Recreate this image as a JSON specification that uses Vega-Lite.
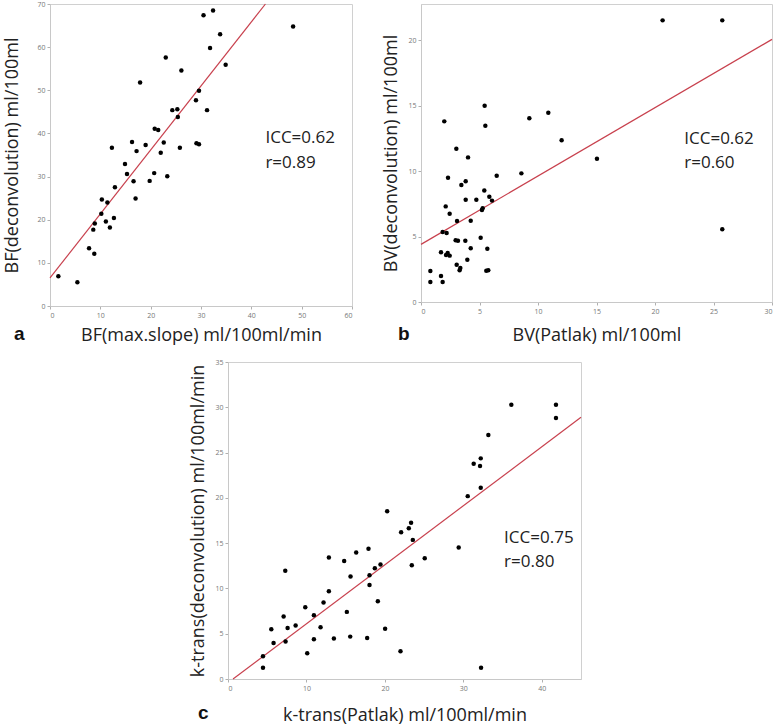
{
  "$schema": "https://vega.github.io/schema/vega-lite/v6.json",
  "padding": {"top": -1, "left": 3, "right": 0, "bottom": 0},
  "background": "white",
  "datasets": {
    "bf": [
      {"x": 1.66, "y": 6.87}, {"x": 5.44, "y": 5.48}, {"x": 7.76, "y": 13.4}, {"x": 8.8, "y": 12.1},
      {"x": 8.6, "y": 17.7}, {"x": 8.9, "y": 19.1}, {"x": 10.2, "y": 21.4}, {"x": 10.3, "y": 24.7},
      {"x": 11.1, "y": 19.6}, {"x": 11.4, "y": 24.0}, {"x": 11.9, "y": 18.2}, {"x": 12.3, "y": 36.7},
      {"x": 12.7, "y": 20.4}, {"x": 12.9, "y": 27.5}, {"x": 14.9, "y": 32.9}, {"x": 15.3, "y": 30.6},
      {"x": 16.3, "y": 38.0}, {"x": 16.6, "y": 28.9}, {"x": 17.0, "y": 24.9}, {"x": 17.2, "y": 35.9},
      {"x": 17.9, "y": 51.8}, {"x": 19.0, "y": 37.3}, {"x": 19.8, "y": 29.0}, {"x": 20.7, "y": 30.8},
      {"x": 20.8, "y": 41.1}, {"x": 21.5, "y": 40.8}, {"x": 22.0, "y": 35.5}, {"x": 22.6, "y": 37.9},
      {"x": 23.0, "y": 57.6}, {"x": 23.3, "y": 30.1}, {"x": 24.3, "y": 45.4}, {"x": 25.3, "y": 45.6},
      {"x": 25.4, "y": 43.8}, {"x": 25.8, "y": 36.7}, {"x": 26.1, "y": 54.6}, {"x": 29.0, "y": 47.7},
      {"x": 29.1, "y": 37.7}, {"x": 29.6, "y": 37.5}, {"x": 29.6, "y": 49.9}, {"x": 30.5, "y": 67.4},
      {"x": 31.2, "y": 45.4}, {"x": 31.8, "y": 59.8}, {"x": 32.4, "y": 68.5}, {"x": 33.8, "y": 63.0},
      {"x": 34.9, "y": 55.9}, {"x": 48.3, "y": 64.8}
    ],
    "bfLine": [{"x": 0, "y": 6.5}, {"x": 42.8, "y": 70}],
    "bfText": [{"x": 42.8, "y": 38.9, "label": "ICC=0.62"}, {"x": 42.8, "y": 33.2, "label": "r=0.89"}],
    "bv": [
      {"x": 20.65, "y": 21.5}, {"x": 25.75, "y": 21.5}, {"x": 25.75, "y": 5.55}, {"x": 15.04, "y": 10.94},
      {"x": 12.02, "y": 12.34}, {"x": 10.88, "y": 14.45}, {"x": 9.26, "y": 14.02}, {"x": 8.58, "y": 9.82},
      {"x": 5.44, "y": 14.99}, {"x": 5.5, "y": 13.46}, {"x": 1.99, "y": 13.79}, {"x": 3.02, "y": 11.7},
      {"x": 4.02, "y": 11.04}, {"x": 6.47, "y": 9.64}, {"x": 2.31, "y": 9.49}, {"x": 3.45, "y": 8.93},
      {"x": 3.82, "y": 9.21}, {"x": 5.41, "y": 8.52}, {"x": 5.84, "y": 8.04}, {"x": 6.07, "y": 7.74},
      {"x": 3.82, "y": 7.81}, {"x": 4.73, "y": 7.81}, {"x": 5.21, "y": 7.02}, {"x": 5.27, "y": 7.15},
      {"x": 2.11, "y": 7.3}, {"x": 2.45, "y": 6.74}, {"x": 3.08, "y": 6.18}, {"x": 4.25, "y": 6.21},
      {"x": 1.85, "y": 5.34}, {"x": 2.19, "y": 5.27}, {"x": 2.96, "y": 4.71}, {"x": 3.16, "y": 4.68},
      {"x": 3.79, "y": 4.68}, {"x": 5.1, "y": 4.91}, {"x": 1.71, "y": 3.79}, {"x": 2.28, "y": 3.74},
      {"x": 2.14, "y": 3.59}, {"x": 2.45, "y": 3.54}, {"x": 4.25, "y": 4.1}, {"x": 5.67, "y": 4.07},
      {"x": 3.96, "y": 3.23}, {"x": 3.05, "y": 2.85}, {"x": 3.36, "y": 2.6}, {"x": 3.3, "y": 2.42},
      {"x": 5.58, "y": 2.39}, {"x": 5.75, "y": 2.42}, {"x": 0.8, "y": 2.37}, {"x": 1.71, "y": 1.98},
      {"x": 0.8, "y": 1.53}, {"x": 1.85, "y": 1.53}
    ],
    "bvLine": [{"x": 0, "y": 4.4}, {"x": 30, "y": 20.05}],
    "bvText": [{"x": 22.5, "y": 12.47, "label": "ICC=0.62"}, {"x": 22.5, "y": 10.64, "label": "r=0.60"}],
    "kt": [
      {"x": 36.12, "y": 30.29}, {"x": 41.81, "y": 30.29}, {"x": 41.81, "y": 28.81}, {"x": 33.19, "y": 26.93},
      {"x": 32.22, "y": 24.36}, {"x": 31.32, "y": 23.77}, {"x": 32.13, "y": 23.51}, {"x": 32.22, "y": 21.11},
      {"x": 30.56, "y": 20.19}, {"x": 20.29, "y": 18.53}, {"x": 23.34, "y": 17.24}, {"x": 23.05, "y": 16.65},
      {"x": 22.07, "y": 16.21}, {"x": 23.56, "y": 15.36}, {"x": 29.41, "y": 14.52}, {"x": 25.08, "y": 13.34},
      {"x": 23.43, "y": 12.56}, {"x": 17.91, "y": 14.37}, {"x": 16.34, "y": 13.96}, {"x": 14.81, "y": 13.04},
      {"x": 12.86, "y": 13.41}, {"x": 19.44, "y": 12.64}, {"x": 18.72, "y": 12.23}, {"x": 18.04, "y": 11.46},
      {"x": 15.62, "y": 11.31}, {"x": 18.04, "y": 10.39}, {"x": 12.86, "y": 9.69}, {"x": 7.3, "y": 11.94},
      {"x": 19.1, "y": 8.59}, {"x": 12.18, "y": 8.44}, {"x": 9.85, "y": 7.92}, {"x": 15.15, "y": 7.41},
      {"x": 10.95, "y": 7.04}, {"x": 7.09, "y": 6.89}, {"x": 8.62, "y": 5.9}, {"x": 7.6, "y": 5.64},
      {"x": 11.8, "y": 5.71}, {"x": 20.03, "y": 5.56}, {"x": 5.52, "y": 5.49}, {"x": 5.81, "y": 3.98},
      {"x": 7.34, "y": 4.13}, {"x": 10.95, "y": 4.38}, {"x": 13.5, "y": 4.46}, {"x": 15.58, "y": 4.68},
      {"x": 17.74, "y": 4.53}, {"x": 21.99, "y": 3.06}, {"x": 10.1, "y": 2.84}, {"x": 4.46, "y": 2.51},
      {"x": 4.46, "y": 1.25}, {"x": 32.26, "y": 1.25}
    ],
    "ktLine": [{"x": 0.64, "y": 0}, {"x": 45, "y": 28.9}],
    "ktText": [{"x": 35.2, "y": 15.59, "label": "ICC=0.75"}, {"x": 35.2, "y": 12.97, "label": "r=0.80"}]
  },
  "vconcat": [
    {
      "bounds": "flush",
      "spacing": 69,
      "hconcat": [
        {
          "width": 302,
          "height": 302,
          "title": {"text": "a", "orient": "bottom", "anchor": "start", "frame": "group", "dx": -36, "offset": -4, "baseline": "alphabetic", "font": "Liberation Sans", "fontSize": 19, "fontWeight": "bold", "color": "#111"},
          "layer": [
            {
              "data": {"name": "bfLine"},
              "mark": {"type": "line", "color": "#c8414e", "strokeWidth": 1.2},
              "encoding": {
                "x": {"field": "x", "type": "quantitative", "scale": {"domain": [0, 60], "nice": false}, "axis": {"title": "BF(max.slope) ml/100ml/min", "values": [0, 10, 20, 30, 40, 50, 60], "titlePadding": 8}},
                "y": {"field": "y", "type": "quantitative", "scale": {"domain": [0, 70], "nice": false}, "axis": {"title": "BF(deconvolution) ml/100ml", "values": [0, 10, 20, 30, 40, 50, 60, 70], "titlePadding": 15}}
              }
            },
            {
              "data": {"name": "bf"},
              "mark": {"type": "circle", "color": "#000", "opacity": 1, "size": 20},
              "encoding": {"x": {"field": "x", "type": "quantitative"}, "y": {"field": "y", "type": "quantitative"}}
            },
            {
              "data": {"name": "bfText"},
              "mark": {"type": "text", "align": "left", "baseline": "middle", "font": "Open Sans", "fontSize": 17, "color": "#222"},
              "encoding": {"x": {"field": "x", "type": "quantitative"}, "y": {"field": "y", "type": "quantitative"}, "text": {"field": "label"}}
            }
          ]
        },
        {
          "width": 351,
          "height": 298,
          "title": {"text": "b", "orient": "bottom", "anchor": "start", "frame": "group", "dx": -23, "offset": -4, "baseline": "alphabetic", "font": "Liberation Sans", "fontSize": 19, "fontWeight": "bold", "color": "#111"},
          "layer": [
            {
              "data": {"name": "bvLine"},
              "mark": {"type": "line", "color": "#c8414e", "strokeWidth": 1.2},
              "encoding": {
                "x": {"field": "x", "type": "quantitative", "scale": {"domain": [0, 30], "nice": false}, "axis": {"title": "BV(Patlak) ml/100ml", "values": [0, 5, 10, 15, 20, 25, 30], "titlePadding": 12}},
                "y": {"field": "y", "type": "quantitative", "scale": {"domain": [0, 22.75], "nice": false}, "axis": {"title": "BV(deconvolution) ml/100ml", "values": [0, 5, 10, 15, 20], "titlePadding": 7}}
              }
            },
            {
              "data": {"name": "bv"},
              "mark": {"type": "circle", "color": "#000", "opacity": 1, "size": 20},
              "encoding": {"x": {"field": "x", "type": "quantitative"}, "y": {"field": "y", "type": "quantitative"}}
            },
            {
              "data": {"name": "bvText"},
              "mark": {"type": "text", "align": "left", "baseline": "middle", "font": "Open Sans", "fontSize": 17, "color": "#222"},
              "encoding": {"x": {"field": "x", "type": "quantitative"}, "y": {"field": "y", "type": "quantitative"}, "text": {"field": "label"}}
            }
          ]
        }
      ]
    },
    {
      "bounds": "flush",
      "spacing": 0,
      "hconcat": [
        {
          "width": 178,
          "height": 10,
          "view": {"stroke": null},
          "data": {"values": []},
          "mark": "point",
          "encoding": {}
        },
        {
          "width": 353,
          "height": 317,
          "title": {"text": "c", "orient": "bottom", "anchor": "start", "frame": "group", "dx": -30, "offset": -5, "baseline": "alphabetic", "font": "Liberation Sans", "fontSize": 19, "fontWeight": "bold", "color": "#111"},
          "layer": [
            {
              "data": {"name": "ktLine"},
              "mark": {"type": "line", "color": "#c8414e", "strokeWidth": 1.2},
              "encoding": {
                "x": {"field": "x", "type": "quantitative", "scale": {"domain": [0, 45], "nice": false}, "axis": {"title": "k-trans(Patlak) ml/100ml/min", "values": [0, 5, 10, 15, 20, 25, 30, 35, 40, 45], "titlePadding": 15}},
                "y": {"field": "y", "type": "quantitative", "scale": {"domain": [0, 35], "nice": false}, "axis": {"title": "k-trans(deconvolution) ml/100ml/min", "values": [0, 5, 10, 15, 20, 25, 30, 35], "titlePadding": 7}}
              }
            },
            {
              "data": {"name": "kt"},
              "mark": {"type": "circle", "color": "#000", "opacity": 1, "size": 20},
              "encoding": {"x": {"field": "x", "type": "quantitative"}, "y": {"field": "y", "type": "quantitative"}}
            },
            {
              "data": {"name": "ktText"},
              "mark": {"type": "text", "align": "left", "baseline": "middle", "font": "Open Sans", "fontSize": 17, "color": "#222"},
              "encoding": {"x": {"field": "x", "type": "quantitative"}, "y": {"field": "y", "type": "quantitative"}, "text": {"field": "label"}}
            }
          ]
        }
      ]
    }
  ],
  "spacing": 12,
  "config": {
    "view": {"stroke": "#d0d0d0", "strokeWidth": 1},
    "axis": {
      "grid": false,
      "domainColor": "#c8c8c8",
      "tickColor": "#b0b0b0",
      "tickSize": 3,
      "labelFont": "Open Sans",
      "labelFontSize": 7,
      "labelColor": "#777",
      "labelPadding": 2,
      "titleFont": "Open Sans",
      "titleFontSize": 18,
      "titleFontWeight": "normal",
      "titleColor": "#222"
    }
  }
}
